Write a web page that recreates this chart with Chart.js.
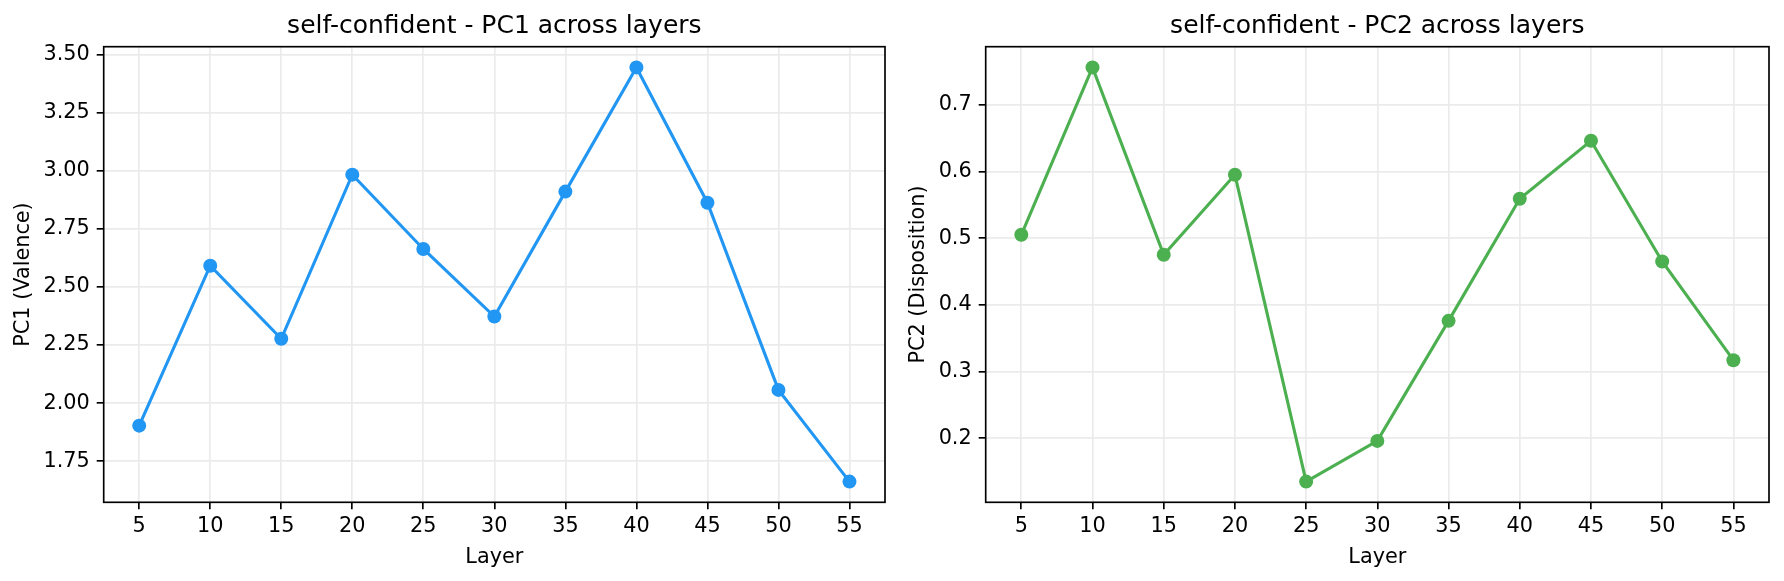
<!DOCTYPE html>
<html>
<head>
<meta charset="utf-8">
<script src="https://cdn.jsdelivr.net/npm/chart.js@4.4.1/dist/chart.umd.min.js"></script>
<style>
  html, body { margin: 0; padding: 0; background: #fff; }
  #wrap { position: relative; width: 1784px; height: 581px; }
  .box { position: absolute; top: 0; width: 892px; height: 581px; }
</style>
</head>
<body>
<div id="wrap">
  <div class="box" style="left:0"><canvas id="pc1-chart" width="892" height="581"></canvas></div>
  <div class="box" style="left:892px"><canvas id="pc2-chart" width="892" height="581"></canvas></div>
</div>
<script>
// data
const layers = [5, 10, 15, 20, 25, 30, 35, 40, 45, 50, 55];
const pc1Values = [1.903, 2.592, 2.277, 2.984, 2.664, 2.373, 2.911, 3.446, 2.863, 2.057, 1.662];
const pc2Values = [0.505, 0.756, 0.475, 0.595, 0.135, 0.196, 0.376, 0.559, 0.646, 0.465, 0.317];
const pc1Ticks = [1.75, 2.0, 2.25, 2.5, 2.75, 3.0, 3.25, 3.5];
const pc2Ticks = [0.2, 0.3, 0.4, 0.5, 0.6, 0.7];

const FONT = "DejaVu Sans";

// matplotlib style frame round the plot area
const spines = {
  id: "spines",
  afterDatasetsDraw(chart) {
    const { ctx, chartArea: a } = chart;
    ctx.save();
    ctx.strokeStyle = "#000";
    ctx.lineWidth = 1.67;
    ctx.strokeRect(a.left, a.top, a.right - a.left, a.bottom - a.top);
    ctx.restore();
  },
};

// 5% margins like matplotlib autoscale
function padRange(values) {
  const lo = Math.min(...values);
  const hi = Math.max(...values);
  const m = (hi - lo) * 0.05;
  return [lo - m, hi + m];
}

function drawPanel(canvasId, cfg) {
  const ctx = document.getElementById(canvasId).getContext("2d");
  const [yMin, yMax] = padRange(cfg.values);
  const points = layers.map((x, i) => ({ x: x, y: cfg.values[i] }));

  const grid = {
    color: "#ebebeb",
    lineWidth: 1.67,
    drawTicks: true,
    tickLength: 7,
    tickColor: "#000",
    tickWidth: 1.67,
  };

  new Chart(ctx, {
    type: "line",
    data: {
      datasets: [
        {
          data: points,
          borderColor: cfg.color,
          backgroundColor: cfg.color,
          borderWidth: 3.1,
          pointRadius: 7,
          pointHoverRadius: 7,
          pointBorderWidth: 0,
          tension: 0,
          clip: false,
        },
      ],
    },
    options: {
      responsive: false,
      animation: false,
      devicePixelRatio: 1,
      layout: { padding: { left: 0, right: cfg.padRight, top: 0, bottom: 0 } },
      plugins: {
        legend: { display: false },
        tooltip: { enabled: false },
        title: {
          display: true,
          text: cfg.title,
          color: "#000",
          fullSize: false,
          font: { family: FONT, size: 25, weight: "normal", lineHeight: 1.2 },
          padding: { top: 11.5, bottom: 5.2 },
        },
      },
      scales: {
        x: {
          type: "linear",
          min: layers[0] - 2.5,
          max: layers[layers.length - 1] + 2.5,
          afterBuildTicks: (s) => { s.ticks = layers.map((v) => ({ value: v })); },
          afterFit: (s) => { s.height = 78.7; },
          grid: grid,
          border: { display: false },
          ticks: {
            color: "#000",
            padding: 5,
            maxRotation: 0,
            autoSkip: false,
            font: { family: FONT, size: 20.8 },
          },
          title: {
            display: true,
            text: "Layer",
            color: "#000",
            font: { family: FONT, size: 20.8, lineHeight: 1.2 },
            padding: { top: 0, bottom: 11 },
          },
        },
        y: {
          type: "linear",
          min: yMin,
          max: yMax,
          afterBuildTicks: (s) => { s.ticks = cfg.ticks.map((v) => ({ value: v })); },
          afterFit: (s) => { s.width = cfg.yWidth; },
          grid: grid,
          border: { display: false },
          ticks: {
            color: "#000",
            padding: 7,
            font: { family: FONT, size: 20.8 },
            callback: (v) => Number(v).toFixed(cfg.decimals),
          },
          title: {
            display: true,
            text: cfg.yLabel,
            color: "#000",
            font: { family: FONT, size: 20.8, lineHeight: 1.2 },
            padding: { top: cfg.yTitlePad, bottom: 0 },
          },
        },
      },
    },
    plugins: [spines],
  });
}

drawPanel("pc1-chart", {
  title: "self-confident - PC1 across layers",
  yLabel: "PC1 (Valence)",
  values: pc1Values,
  ticks: pc1Ticks,
  decimals: 2,
  color: "#2196F3",
  yWidth: 103.7,
  padRight: 4.7,
  yTitlePad: 11.4,
});

drawPanel("pc2-chart", {
  title: "self-confident - PC2 across layers",
  yLabel: "PC2 (Disposition)",
  values: pc2Values,
  ticks: pc2Ticks,
  decimals: 1,
  color: "#4CAF50",
  yWidth: 93.7,
  padRight: 15,
  yTitlePad: 14.4,
});
</script>
</body>
</html>
